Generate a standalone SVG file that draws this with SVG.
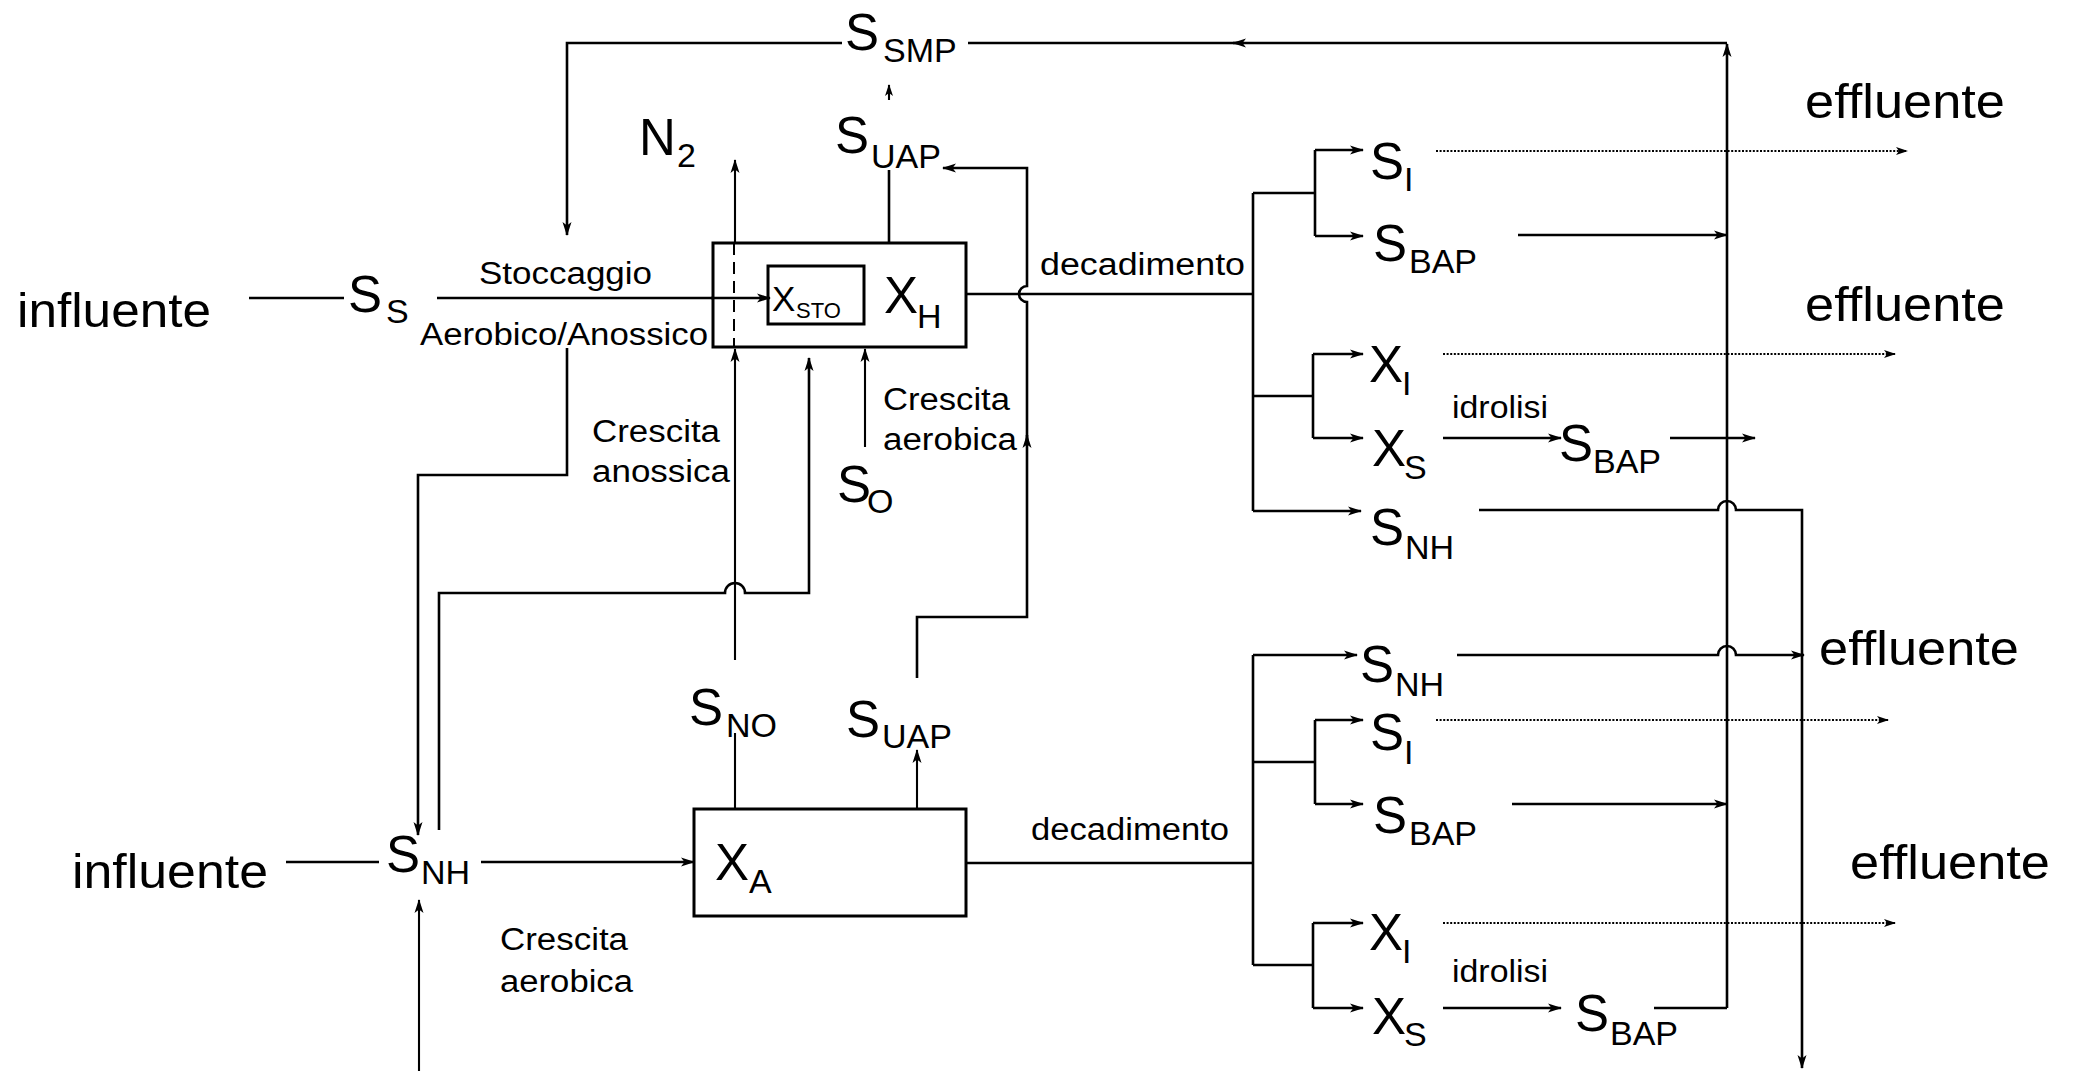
<svg xmlns="http://www.w3.org/2000/svg" width="2073" height="1071" viewBox="0 0 2073 1071">
<defs>
<marker id="ah" markerUnits="userSpaceOnUse" markerWidth="16" markerHeight="12" refX="13" refY="6" orient="auto">
<path d="M0,1.5 L14,6 L0,10.5 L3.5,6 z" fill="#000"/>
</marker>
<marker id="as" markerUnits="userSpaceOnUse" markerWidth="14" markerHeight="12" refX="11" refY="6" orient="auto">
<path d="M0,2 L12,6 L0,10 L3,6 z" fill="#000"/>
</marker>
</defs>
<style>
text{font-family:"Liberation Sans",Arial,Helvetica,sans-serif;fill:#000}
.big{font-size:48px}
.lbl{font-size:31px}
.m{font-size:51px}
.sub{font-size:34px}
.sm{font-size:35px}
.smsub{font-size:22px}
.c{fill:none;stroke:#000;stroke-width:2.6}
.t{stroke-width:2.1}
.a{marker-end:url(#ah)}
.as{marker-end:url(#as)}
.d{stroke-dasharray:2 1.6}
.box{fill:#fff;stroke:#000;stroke-width:3}
</style>
<rect width="2073" height="1071" fill="#fff"/>

<g id="connectors">
<path class="c a" d="M1727,1008 L1727,44"/>
<path class="c a" d="M1727,43 L1233,43"/>
<path class="c" d="M1240,43 L968,43"/>
<path class="c a" d="M842,43 L567,43 L567,235"/>
<path class="c t as" d="M889,100 L889,85"/>
<path class="c" d="M889,243 L889,170"/>
<path class="c a" d="M917,678 L917,617 L1027,617 L1027,435"/>
<path class="c a" d="M1027,440 L1027,302 A8,8 0 0 1 1027,286 L1027,168 L943,168"/>
<path class="c" d="M249,298 L344,298"/>
<path class="c" d="M437,298 L713,298"/>
<path class="c t a" d="M735,660 L735,349"/>
<path class="c t a" d="M735,243 L735,160"/>
<path class="c a" d="M439,830 L439,593 L725,593 A10,10 0 0 1 745,593 L809,593 L809,358"/>
<path class="c a" d="M567,348 L567,475 L418,475 L418,835"/>
<path class="c t a" d="M865,447 L865,349"/>
<path class="c" d="M966,294 L1253,294"/>
<path class="c" d="M1253,193 L1253,511"/>
<path class="c" d="M1253,193 L1315,193"/>
<path class="c" d="M1315,150 L1315,236"/>
<path class="c a" d="M1315,150 L1363,150"/>
<path class="c a" d="M1315,236 L1363,236"/>
<path class="c" d="M1253,396 L1313,396"/>
<path class="c" d="M1313,354 L1313,438"/>
<path class="c a" d="M1313,354 L1363,354"/>
<path class="c a" d="M1313,438 L1363,438"/>
<path class="c a" d="M1253,511 L1361,511"/>
<path class="c t d as" d="M1436,151 L1907,151"/>
<path class="c t d as" d="M1443,354 L1895,354"/>
<path class="c a" d="M1518,235 L1727,235"/>
<path class="c a" d="M1443,438 L1561,438"/>
<path class="c a" d="M1670,438 L1755,438"/>
<path class="c a" d="M1479,510 L1718,510 A9,9 0 0 1 1736,510 L1802,510 L1802,1068"/>
<path class="c" d="M286,862 L379,862"/>
<path class="c a" d="M481,862 L694,862"/>
<path class="c t a" d="M419,1071 L419,900"/>
<path class="c t" d="M735,809 L735,733"/>
<path class="c t a" d="M917,809 L917,750"/>
<path class="c" d="M966,863 L1253,863"/>
<path class="c" d="M1253,655 L1253,965"/>
<path class="c a" d="M1253,655 L1357,655"/>
<path class="c" d="M1253,762 L1315,762"/>
<path class="c" d="M1315,720 L1315,804"/>
<path class="c a" d="M1315,720 L1363,720"/>
<path class="c a" d="M1315,804 L1363,804"/>
<path class="c" d="M1253,965 L1313,965"/>
<path class="c" d="M1313,923 L1313,1008"/>
<path class="c a" d="M1313,923 L1363,923"/>
<path class="c a" d="M1313,1008 L1363,1008"/>
<path class="c a" d="M1457,655 L1718,655 A9,9 0 0 1 1736,655 L1804,655"/>
<path class="c t d as" d="M1436,720 L1888,720"/>
<path class="c a" d="M1512,804 L1727,804"/>
<path class="c t d as" d="M1443,923 L1895,923"/>
<path class="c a" d="M1443,1008 L1561,1008"/>
<path class="c" d="M1654,1008 L1727,1008"/>
</g>

<g id="XH">
<rect class="box" x="713" y="243" width="253" height="104"/>
<path d="M734,243 L734,347" fill="none" stroke="#000" stroke-width="2" stroke-dasharray="12 7"/>
<path d="M711,298 L770,298" fill="none" stroke="#000" stroke-width="2.6" marker-end="url(#ah)"/>
<rect x="768" y="266" width="96" height="58" fill="none" stroke="#000" stroke-width="3"/>
<text class="sm" x="772" y="311">X<tspan class="smsub" x="796" y="318">STO</tspan></text>
<text class="m" x="884" y="313">X<tspan class="sub" x="917" y="328">H</tspan></text>
</g>
<g id="XA">
<rect class="box" x="694" y="809" width="272" height="107"/>
<text class="m" x="715" y="880">X<tspan class="sub" x="749" y="893">A</tspan></text>
</g>

<g id="SSMP"><text class="m" x="845" y="50">S<tspan class="sub" x="883" y="62">SMP</tspan></text></g>
<g id="N2"><text class="m" x="639" y="155">N<tspan class="sub" x="677" y="167">2</tspan></text></g>
<g id="SUAP1"><text class="m" x="835" y="153">S<tspan class="sub" x="871" y="168">UAP</tspan></text></g>
<g id="SS"><text class="m" x="348" y="312">S<tspan class="sub" x="386" y="323">S</tspan></text></g>
<g id="SO"><text class="m" x="837" y="502">S<tspan class="sub" x="867" y="513">O</tspan></text></g>
<g id="SNO"><text class="m" x="689" y="725">S<tspan class="sub" x="726" y="737">NO</tspan></text></g>
<g id="SUAP2"><text class="m" x="846" y="737">S<tspan class="sub" x="882" y="748">UAP</tspan></text></g>
<g id="SNH1"><text class="m" x="386" y="872">S<tspan class="sub" x="421" y="884">NH</tspan></text></g>

<g id="SI1"><text class="m" x="1370" y="179">S<tspan class="sub" x="1404" y="191">I</tspan></text></g>
<g id="SBAP1"><text class="m" x="1373" y="261">S<tspan class="sub" x="1409" y="273">BAP</tspan></text></g>
<g id="XI1"><text class="m" x="1369" y="382">X<tspan class="sub" x="1402" y="395">I</tspan></text></g>
<g id="XS1"><text class="m" x="1372" y="466">X<tspan class="sub" x="1404" y="479">S</tspan></text></g>
<g id="SBAP2"><text class="m" x="1559" y="461">S<tspan class="sub" x="1593" y="473">BAP</tspan></text></g>
<g id="SNH2"><text class="m" x="1370" y="545">S<tspan class="sub" x="1405" y="559">NH</tspan></text></g>
<g id="SNH3"><text class="m" x="1360" y="682">S<tspan class="sub" x="1395" y="696">NH</tspan></text></g>
<g id="SI2"><text class="m" x="1370" y="750">S<tspan class="sub" x="1404" y="764">I</tspan></text></g>
<g id="SBAP3"><text class="m" x="1373" y="833">S<tspan class="sub" x="1409" y="845">BAP</tspan></text></g>
<g id="XI2"><text class="m" x="1369" y="950">X<tspan class="sub" x="1402" y="963">I</tspan></text></g>
<g id="XS2"><text class="m" x="1372" y="1034">X<tspan class="sub" x="1404" y="1046">S</tspan></text></g>
<g id="SBAP4"><text class="m" x="1575" y="1031">S<tspan class="sub" x="1610" y="1045">BAP</tspan></text></g>

<g id="influente1"><text class="big" x="17" y="327" textLength="194" lengthAdjust="spacingAndGlyphs">influente</text></g>
<g id="influente2"><text class="big" x="72" y="888" textLength="196" lengthAdjust="spacingAndGlyphs">influente</text></g>
<g id="effluente1"><text class="big" x="1805" y="118" textLength="200" lengthAdjust="spacingAndGlyphs">effluente</text></g>
<g id="effluente2"><text class="big" x="1805" y="321" textLength="200" lengthAdjust="spacingAndGlyphs">effluente</text></g>
<g id="effluente3"><text class="big" x="1819" y="665" textLength="200" lengthAdjust="spacingAndGlyphs">effluente</text></g>
<g id="effluente4"><text class="big" x="1850" y="879" textLength="200" lengthAdjust="spacingAndGlyphs">effluente</text></g>

<g id="labels">
<text class="lbl" x="479" y="284" textLength="173" lengthAdjust="spacingAndGlyphs">Stoccaggio</text>
<text class="lbl" x="420" y="345" textLength="288" lengthAdjust="spacingAndGlyphs">Aerobico/Anossico</text>
<text class="lbl" x="592" y="442" textLength="128" lengthAdjust="spacingAndGlyphs">Crescita</text>
<text class="lbl" x="592" y="482" textLength="138" lengthAdjust="spacingAndGlyphs">anossica</text>
<text class="lbl" x="883" y="410" textLength="127" lengthAdjust="spacingAndGlyphs">Crescita</text>
<text class="lbl" x="883" y="450" textLength="134" lengthAdjust="spacingAndGlyphs">aerobica</text>
<text class="lbl" x="500" y="950" textLength="128" lengthAdjust="spacingAndGlyphs">Crescita</text>
<text class="lbl" x="500" y="992" textLength="133" lengthAdjust="spacingAndGlyphs">aerobica</text>
<text class="lbl" x="1040" y="275" textLength="205" lengthAdjust="spacingAndGlyphs">decadimento</text>
<text class="lbl" x="1031" y="840" textLength="198" lengthAdjust="spacingAndGlyphs">decadimento</text>
<text class="lbl" x="1452" y="418" textLength="96" lengthAdjust="spacingAndGlyphs">idrolisi</text>
<text class="lbl" x="1452" y="982" textLength="96" lengthAdjust="spacingAndGlyphs">idrolisi</text>
</g>
</svg>
